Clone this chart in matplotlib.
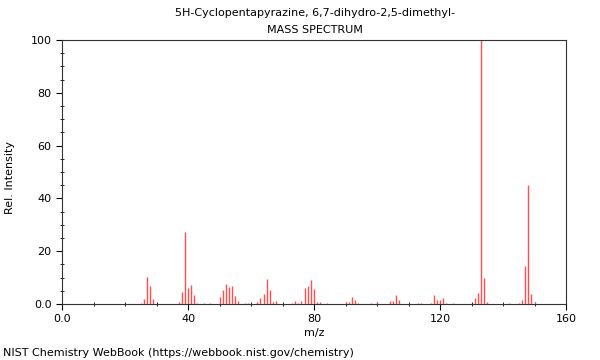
import matplotlib
matplotlib.use("Agg")
import matplotlib.pyplot as plt
from matplotlib.ticker import MultipleLocator, FuncFormatter

# peaks
mz = [25, 26, 27, 28, 29, 37, 38, 39, 40, 41, 42, 43, 45, 47,
      50, 51, 52, 53, 54, 55, 56, 58, 59, 62, 63, 64, 65, 66, 67, 68,
      73, 74, 75, 76, 77, 78, 79, 80, 81, 82, 84,
      90, 91, 92, 93, 94, 98, 100, 104, 105, 106, 107, 113, 114,
      117, 118, 119, 120, 121, 122, 124,
      131, 132, 133, 134, 135, 142, 145, 146, 147, 148, 149, 150]
intensity = [0.4, 1.8, 10.1, 6.9, 2.0, 0.9, 4.5, 27.4, 5.9, 7.3, 3.3, 0.4, 0.3, 0.3,
             2.5, 5.4, 7.7, 6.3, 6.9, 3.1, 1.1, 0.3, 0.3, 0.8, 2.4, 3.8, 9.5, 5.3, 0.8, 1.1,
             0.4, 1.1, 0.5, 1.0, 6.1, 6.8, 9.1, 5.7, 0.8, 0.7, 0.3,
             0.8, 0.6, 2.5, 1.6, 0.3, 0.3, 0.6, 1.1, 1.1, 3.4, 1.5, 0.3, 0.3,
             0.3, 3.3, 1.4, 1.4, 2.3, 0.5, 0.4,
             2.4, 4.0, 100.0, 9.7, 0.9, 0.3, 0.4, 1.5, 14.4, 45.1, 3.7, 0.8]

title = "5H-Cyclopentapyrazine, 6,7-dihydro-2,5-dimethyl-"
footer = "NIST Chemistry WebBook (https://webbook.nist.gov/chemistry)"

plt.rcParams["font.family"] = ["DejaVu Sans"]
plt.rcParams["font.size"] = 8


def fmt(v, pos):
    return "0.0" if v == 0 else f"{v:.0f}"


fig = plt.figure(figsize=(6, 3.6), dpi=100)
ax = fig.add_axes([62 / 600, 1 - 304 / 360, 504 / 600, 264 / 360])

ax.vlines(mz, 0, intensity, colors="#ff5050", linewidth=1.0)

ax.set_xlim(0, 160)
ax.set_ylim(0, 100)
ax.xaxis.set_major_locator(MultipleLocator(40))
ax.xaxis.set_minor_locator(MultipleLocator(10))
ax.yaxis.set_major_locator(MultipleLocator(20))
ax.yaxis.set_minor_locator(MultipleLocator(5))
ax.xaxis.set_major_formatter(FuncFormatter(fmt))
ax.yaxis.set_major_formatter(FuncFormatter(fmt))
ax.tick_params(which="major", direction="out", length=4, width=0.8, labelsize=8)
ax.tick_params(which="minor", direction="inout", length=3, width=0.6)

for s in ax.spines.values():
    s.set_linewidth(0.8)
    s.set_color("#333333")

ax.set_xlabel("m/z", fontsize=8)
ax.xaxis.set_label_coords(0.5, -0.09)
ax.set_ylabel("Rel. Intensity", fontsize=8)
ax.yaxis.set_label_coords(-0.093, 0.48)

fig.text(0.525, 1 - 13 / 360, title, ha="center", va="center", fontsize=8)
fig.text(0.525, 1 - 30 / 360, "MASS SPECTRUM", ha="center", va="center", fontsize=8)
fig.text(3 / 600, 1 - 353 / 360, footer, ha="left", va="center", fontsize=8)

fig.savefig("out.png", dpi=100)
